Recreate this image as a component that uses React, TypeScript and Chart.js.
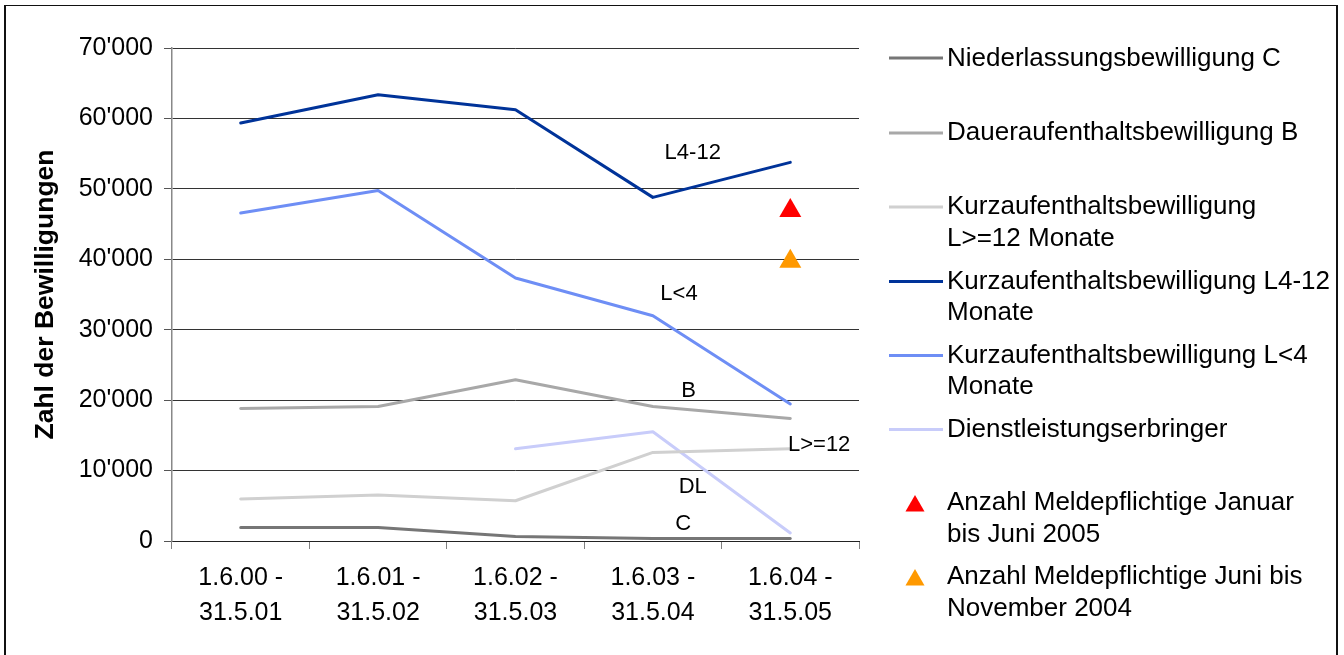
import { useEffect, useRef } from 'react';
import { Chart, registerables } from 'chart.js';

Chart.register(...registerables);

// ---- data ----
const categories: string[][] = [
  ['1.6.00 -', '31.5.01'],
  ['1.6.01 -', '31.5.02'],
  ['1.6.02 -', '31.5.03'],
  ['1.6.03 -', '31.5.04'],
  ['1.6.04 -', '31.5.05'],
];
const niederlassungC = [1930, 1930, 650, 370, 350];
const daueraufenthaltB = [18830, 19110, 22900, 19110, 17410];
const kurzL12plus = [5960, 6530, 5720, 12580, 13100];
const kurzL4bis12 = [59350, 63370, 61240, 48790, 53760];
const kurzLunter4 = [46570, 49780, 37340, 31990, 19450];
const dienstleistung = [null, null, 13100, 15520, 1140];
const meldeJanJun2005 = [null, null, null, null, 46900];
const meldeJunNov2004 = [null, null, null, null, 39700];

const legendLabels: string[][] = [
  ['Niederlassungsbewilligung C'],
  ['Daueraufenthaltsbewilligung B'],
  ['Kurzaufenthaltsbewilligung', 'L>=12 Monate'],
  ['Kurzaufenthaltsbewilligung L4-12', 'Monate'],
  ['Kurzaufenthaltsbewilligung L<4', 'Monate'],
  ['Dienstleistungserbringer'],
  ['Anzahl Meldepflichtige Januar', 'bis Juni 2005'],
  ['Anzahl Meldepflichtige Juni bis', 'November 2004'],
];
const seriesTags = ['C', 'B', 'L>=12', 'L4-12', 'L<4', 'DL'];
const yTitle = 'Zahl der Bewilligungen';
const yMax = 70000;
const yStep = 10000;

// ---- styles / positions ----
const FONT = '"Liberation Sans", Arial, Helvetica, sans-serif';
const colors = ['#767676', '#a8a8a8', '#d0d0d0', '#003399', '#6e8ef5', '#c8ccfa', '#ff0000', '#ff9900'];
// tag anchors in data space: [category index, value]
const tagAnchors: [number, number][] = [
  [3.22, 2550],
  [3.26, 21450],
  [4.21, 13780],
  [3.29, 55250],
  [3.19, 35180],
  [3.29, 7750],
];
// legend layout (pixels)
const legendRows = [
  { markY: 58, baselines: [65.5] },
  { markY: 133, baselines: [140] },
  { markY: 207, baselines: [214, 245.5] },
  { markY: 281.5, baselines: [288.5, 320] },
  { markY: 355.5, baselines: [362.5, 394] },
  { markY: 429.5, baselines: [436.5] },
  { markY: 506, baselines: [510, 541.5] },
  { markY: 580, baselines: [584, 615.5] },
];

function fmt(v: number): string {
  if (v === 0) return '0';
  const s = String(Math.round(v));
  return s.replace(/\B(?=(\d{3})+(?!\d))/g, "'");
}

const overlayPlugin = {
  id: 'overlay',
  afterDatasetsDraw(chart: any) {
    const ctx = chart.ctx as CanvasRenderingContext2D;
    const xs = chart.scales.x;
    const ys = chart.scales.y;
    ctx.save();
    // in-plot series tags
    ctx.fillStyle = '#000';
    ctx.font = `22px ${FONT}`;
    ctx.textAlign = 'center';
    ctx.textBaseline = 'middle';
    seriesTags.forEach((t, i) => {
      const [ci, v] = tagAnchors[i];
      ctx.fillText(t, xs.getPixelForValue(ci), ys.getPixelForValue(v) + 1);
    });
    // legend
    ctx.textAlign = 'left';
    ctx.textBaseline = 'alphabetic';
    ctx.font = `26px ${FONT}`;
    legendRows.forEach((row, i) => {
      const col = colors[i];
      if (i < 6) {
        ctx.strokeStyle = col;
        ctx.lineWidth = 3;
        ctx.lineCap = 'butt';
        ctx.beginPath();
        ctx.moveTo(889, row.markY);
        ctx.lineTo(943, row.markY);
        ctx.stroke();
      } else {
        const r = 11;
        const cx = 915;
        const cy = row.markY;
        ctx.fillStyle = col;
        ctx.beginPath();
        ctx.moveTo(cx, cy - r);
        ctx.lineTo(cx + r * Math.sin(Math.PI / 3), cy + r / 2);
        ctx.lineTo(cx - r * Math.sin(Math.PI / 3), cy + r / 2);
        ctx.closePath();
        ctx.fill();
      }
      ctx.fillStyle = '#000';
      legendLabels[i].forEach((line, k) => {
        ctx.fillText(line, 947, row.baselines[k]);
      });
    });
    ctx.restore();
  },
};

export default function App() {
  const ref = useRef<HTMLCanvasElement | null>(null);
  useEffect(() => {
    if (!ref.current) return;
    const seriesData = [niederlassungC, daueraufenthaltB, kurzL12plus, kurzL4bis12, kurzLunter4, dienstleistung];
    const lineSets = seriesData.map((d, i) => ({
      type: 'line' as const,
      label: legendLabels[i].join(' '),
      data: d,
      borderColor: colors[i],
      backgroundColor: colors[i],
      borderWidth: 3,
      pointRadius: 0,
      pointHoverRadius: 0,
      tension: 0,
      spanGaps: false,
      borderCapStyle: 'round' as const,
      borderJoinStyle: 'round' as const,
    }));
    const markerSets = [meldeJanJun2005, meldeJunNov2004].map((d, j) => ({
      type: 'line' as const,
      label: legendLabels[6 + j].join(' '),
      data: d,
      showLine: false,
      pointStyle: 'triangle' as const,
      pointRadius: 12.7,
      pointBorderWidth: 0,
      borderWidth: 0,
      borderColor: colors[6 + j],
      backgroundColor: colors[6 + j],
      pointBackgroundColor: colors[6 + j],
    }));
    const chart = new Chart(ref.current, {
      type: 'line',
      data: {
        labels: categories as any,
        datasets: [...lineSets, ...markerSets] as any,
      },
      plugins: [overlayPlugin],
      options: {
        animation: false,
        responsive: false,
        maintainAspectRatio: false,
        events: [],
        layout: { padding: { top: 48, right: 485, left: 0, bottom: 0 } },
        plugins: {
          legend: { display: false },
          tooltip: { enabled: false },
          title: { display: false },
        },
        scales: {
          x: {
            type: 'category',
            offset: true,
            afterFit(scale: any) {
              scale.height = 114;
            },
            grid: {
              display: true,
              offset: true,
              drawOnChartArea: false,
              drawTicks: true,
              tickLength: 8,
              color: '#808080',
              lineWidth: 1,
            },
            border: { display: true, color: '#222', width: 1 },
            ticks: {
              color: '#000',
              padding: 12,
              maxRotation: 0,
              autoSkip: false,
              font: { family: FONT, size: 25, lineHeight: 1.39 },
            },
          },
          y: {
            type: 'linear',
            min: 0,
            max: yMax,
            afterFit(scale: any) {
              scale.width = 172;
            },
            grid: {
              color: '#333',
              lineWidth: 1,
              tickLength: 8,
              tickColor: '#555',
            },
            border: { display: true, color: '#888', width: 1.5 },
            ticks: {
              stepSize: yStep,
              color: '#000',
              padding: 11,
              font: { family: FONT, size: 25 },
              callback: (v: any) => fmt(Number(v)),
            },
            title: {
              display: true,
              text: yTitle,
              color: '#000',
              padding: { top: 30, bottom: 0 },
              font: { family: FONT, size: 26.5, weight: 'bold', lineHeight: 1.2 },
            },
          },
        },
      } as any,
    });
    return () => chart.destroy();
  }, []);

  return (
    <div
      style={{
        position: 'fixed',
        left: 0,
        top: 0,
        width: 1344,
        height: 655,
        background: '#fff',
        overflow: 'hidden',
      }}
    >
      <div
        style={{
          position: 'absolute',
          left: 4,
          top: 5,
          width: 1334,
          height: 700,
          borderLeft: '2px solid #111',
          borderRight: '2px solid #111',
          borderTop: '1.5px solid #111',
          boxSizing: 'border-box',
        }}
      />
      <canvas ref={ref} width={1344} height={655} style={{ position: 'absolute', left: 0, top: 0, width: 1344, height: 655 }} />
    </div>
  );
}
